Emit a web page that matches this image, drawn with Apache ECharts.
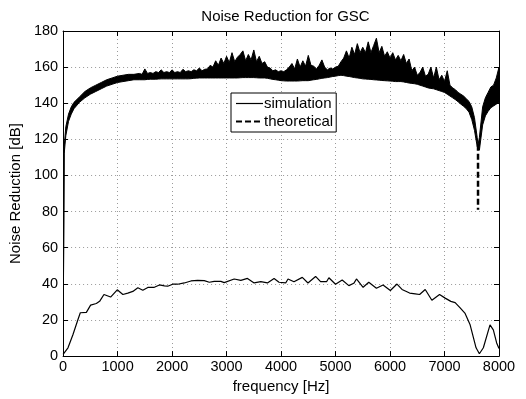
<!DOCTYPE html>
<html><head><meta charset="utf-8">
<script src="https://cdn.jsdelivr.net/npm/echarts@6/dist/echarts.min.js"></script>
<style>html,body{margin:0;padding:0;background:#fff}#c{width:526px;height:399px}</style>
</head><body><div id="c"></div>
<script>
// x tick labels and y tick labels
const xTicks = [0,1000,2000,3000,4000,5000,6000,7000,8000];
const yTicks = [0,20,40,60,80,100,120,140,160,180];

// simulation (solid) curve
const simFreq = [0,90,180,270,316,427,505,610,670,750,872,994,1097,1188,1280,1372,1463,1555,1665,1768,1860,1920,2012,2103,2225,2347,2469,2591,2683,2774,2896,2957,3140,3262,3384,3506,3628,3750,3872,3963,4085,4128,4237,4390,4494,4634,4725,4835,4878,5000,5122,5244,5335,5384,5506,5610,5750,5872,6006,6128,6220,6360,6463,6543,6646,6768,6909,7012,7116,7195,7287,7378,7470,7579,7640,7713,7835,7896,7957,8000];
const simDB   = [1,4.6,11.8,20,24,24.2,28.2,29.1,30.3,34.1,32.7,36.7,34.1,34.9,35.8,37.8,36.5,38,38,39.4,38.9,38.7,39.8,39.8,40.5,41.6,41.9,41.8,40.9,41.4,41.4,40.7,42.7,41.9,43,40.5,41.2,40.5,43,40.9,40.5,42.7,41.2,43.6,40.5,44.1,41.2,41.2,43.4,39.8,42.1,39,40.3,42.7,38.1,40.9,37.6,39.4,36.3,39.9,36.9,34.9,34.5,34.1,36.9,30.9,34.1,32.1,30.3,29.6,26.7,23.6,17.3,4.6,1.3,4.6,17.3,14.5,7.3,4.2];

// theoretical (dashed) curve: lower and upper envelope of its dense band
const bandFreq = [0,20,50,100,150,200,300,400,500,600,700,800,900,1000,1100,1200,1300,
  1400,1450,1500,1550,1600,1650,1700,1750,1800,1850,1900,1950,2000,2050,2100,2150,2200,2250,2300,2350,2400,2450,2500,2550,2600,2650,2700,2750,2800,2850,2900,2950,3000,3050,3100,3150,3200,3250,3300,3350,3400,3450,3500,3550,3600,3650,3700,3750,3800,3850,3900,3950,4000,4050,4100,4150,4200,4250,4300,4350,4400,4450,4500,4550,4600,4650,4700,4750,4800,4850,4900,4950,5000,5050,5100,5150,5200,5250,5300,5350,5400,5450,5500,5550,5600,5650,5700,5750,5800,5850,5900,5950,6000,6050,6100,6150,6200,6250,6300,6350,6400,6450,6500,6550,6600,6650,6700,6750,6800,6850,6900,6950,7000,7050,7100,7150,7200,7250,7300,7350,7400,
  7450,7500,7550,7600,7615,7640,7700,7750,7800,7850,7900,7950,8000];
const bandLow = [0,112,122,130,134,137,140.5,143,145,146.5,148,149.5,150.5,151.5,152,152.5,153,
  153,153,153,153.2,153.3,153.3,153.3,153.4,153.5,153.5,153.5,153.5,153.5,
  153.5,153.5,153.5,153.5,153.5,153.5,153.6,153.8,153.9,154,154,154,
  154,154,154,154,154,154,154,154,154,154,154,154,
  154.1,154.2,154.2,154.2,154.2,154.2,154.1,154,154,154,153.8,153.5,
  153.2,153,152.8,152.5,152.4,152.3,152.3,152.3,152.3,152.3,152.4,152.5,
  152.5,152.5,152.8,153,153.2,153.5,153.8,154,154.2,154.5,154.8,155,
  155.3,155.5,155.3,155,154.8,154.5,154.2,154,153.8,153.5,153.4,153.3,
  153.2,153,152.9,152.8,152.6,152.5,152.4,152.3,152.2,152,152,152,
  151.8,151.5,151.2,151,150.8,150.5,150,149.5,149,148.5,148.2,148,
  147.5,147,146.5,146,145,144,143,142,140.8,139.5,138.3,137,
  135,131,125,116,117,114,128,133,135.5,137.5,138.5,139.5,140.5];
const bandHigh = [0,116,127,134,138,140.5,143.5,146.5,148.5,150,151.5,153,154,155,155.5,156,156,
  156.5,156,159,156.5,157,156.5,157.5,157,158.5,157,157.5,157,158.5,
  157,157.5,157,158.8,157.5,158,157.5,158.5,158,159.5,158,158.8,
  159,161,160,163.5,161,165,162,166,162.5,168,163,165.5,
  167,169,163.5,167,164,169.5,163,166,162,163,160,159.5,
  158,158.5,157.5,158,157.5,158.5,160,162,159,164.5,160,163.5,
  160.5,166.5,161,160.5,159,161,164,160,158.5,159.5,159,160,
  160.5,163,165,169,165,171,167,173,168,171,168,174,
  168,172,176,168,171.5,166,168.5,165,168,164,166.5,163.5,
  167,162,164.5,158,160,155.5,157,160,155,156,160,154,
  160,153,155.5,152,158,150,148.5,147.5,146,145,144,142.5,
  141,138,132,121,117,121,138,143,146,149,150,154,160];

// notch of the theoretical curve
const notchFreq = [7615,7615];
const notchDB   = [117,81];

const pairs = (xs, ys) => xs.map((x, i) => [x, ys[i]]);

const FONT = '"Liberation Sans", Arial, Helvetica, sans-serif';
const chart = echarts.init(document.getElementById('c'), null, {renderer: 'canvas'});

const gridLine = {show: true, lineStyle: {color: '#9a9a9a', type: [1, 3], width: 1}};

function renderBand(params, api) {
  if (params.dataIndex !== 0) return null;
  const pts = [];
  for (let i = 0; i < bandFreq.length; i++) pts.push(api.coord([bandFreq[i], bandHigh[i]]));
  for (let i = bandFreq.length - 1; i >= 0; i--) pts.push(api.coord([bandFreq[i], bandLow[i]]));
  return {type: 'polygon', shape: {points: pts}, style: {fill: '#000', stroke: '#000', lineWidth: 1, lineJoin: 'miter'}};
}

chart.setOption({
  animation: false,
  backgroundColor: '#fff',
  color: ['#000'],
  title: {
    text: 'Noise Reduction for GSC', left: 280.5, top: 4, textAlign: 'center',
    textStyle: {fontFamily: FONT, fontSize: 15, fontWeight: 'normal', color: '#000'}
  },
  grid: {left: 62, right: 27, top: 31, bottom: 37, containLabel: false},
  legend: {
    orient: 'vertical', left: 231, top: 93,
    data: [{name: 'simulation', lineStyle: {width: 1.2}}, 'theoretical'],
    backgroundColor: '#fff', borderColor: '#000', borderWidth: 1, borderRadius: 0,
    padding: [3, 3, 3, 4], itemGap: 3, itemWidth: 27, itemHeight: 14,
    itemStyle: {opacity: 0},
    textStyle: {fontFamily: FONT, fontSize: 15, color: '#000', padding: [0, 0, 0, -4]},
    selectedMode: false
  },
  xAxis: [{
    type: 'value', min: 0, max: 8000, interval: 1000,
    name: 'frequency [Hz]', nameLocation: 'middle', nameGap: 19,
    nameTextStyle: {fontFamily: FONT, fontSize: 15, color: '#000'},
    axisLine: {show: true, onZero: false, lineStyle: {color: '#000', width: 1}},
    axisTick: {show: true, inside: true, length: 5, lineStyle: {color: '#000'}},
    axisLabel: {fontFamily: FONT, fontSize: 14.5, color: '#000', margin: 3,
      formatter: v => xTicks.includes(v) ? String(v) : ''},
    splitLine: gridLine
  }, {
    type: 'value', min: 0, max: 8000, interval: 1000, position: 'top',
    axisLine: {show: true, onZero: false, lineStyle: {color: '#000', width: 1}},
    axisTick: {show: true, inside: true, length: 5, lineStyle: {color: '#000'}},
    axisLabel: {show: false}, splitLine: {show: false}
  }],
  yAxis: [{
    type: 'value', min: 0, max: 180, interval: 20,
    name: 'Noise Reduction [dB]', nameLocation: 'middle', nameGap: 30,
    nameTextStyle: {fontFamily: FONT, fontSize: 15, color: '#000'},
    axisLine: {show: true, onZero: false, lineStyle: {color: '#000', width: 1}},
    axisTick: {show: true, inside: true, length: 5, lineStyle: {color: '#000'}},
    axisLabel: {fontFamily: FONT, fontSize: 14.5, color: '#000', margin: 5,
      formatter: v => yTicks.includes(v) ? String(v) : ''},
    splitLine: gridLine
  }, {
    type: 'value', min: 0, max: 180, interval: 20, position: 'right',
    axisLine: {show: true, onZero: false, lineStyle: {color: '#000', width: 1}},
    axisTick: {show: true, inside: true, length: 5, lineStyle: {color: '#000'}},
    axisLabel: {show: false}, splitLine: {show: false}
  }],
  series: [
    {
      name: 'theoretical band', type: 'custom', coordinateSystem: 'cartesian2d',
      renderItem: renderBand, data: [[bandFreq[0], bandLow[0]]], clip: true, z: 3,
      silent: true
    },
    {
      name: 'theoretical', type: 'line', showSymbol: false, symbol: 'none',
      data: pairs(notchFreq, notchDB), itemStyle: {color: '#000'},
      lineStyle: {width: 2.5, color: '#000', type: [6, 3]}, z: 4
    },
    {
      name: 'simulation', type: 'line', showSymbol: false, symbol: 'none',
      data: pairs(simFreq, simDB), itemStyle: {color: '#000'},
      lineStyle: {width: 1.2, color: '#000', type: 'solid'}, z: 4
    }
  ]
});
</script>
</body></html>
